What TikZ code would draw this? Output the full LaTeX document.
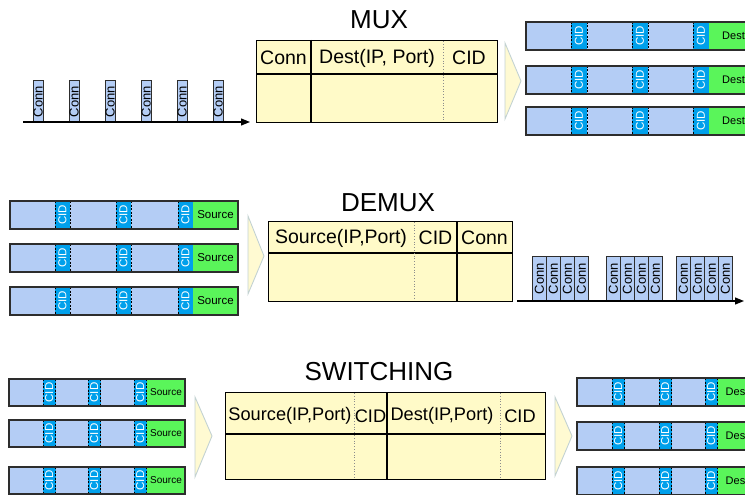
\documentclass[tikz,border=0pt]{standalone}
\usepackage{fontspec}
\setmainfont{Liberation Sans}
\usetikzlibrary{arrows.meta}

\definecolor{pktblue}{RGB}{180,205,245}
\definecolor{cidblue}{RGB}{0,160,235}
\definecolor{srcgreen}{RGB}{90,245,90}
\definecolor{tabyellow}{RGB}{255,250,200}
\definecolor{chevfill}{RGB}{255,250,210}
\definecolor{chevline}{RGB}{195,210,210}
\definecolor{pktline}{RGB}{45,45,45}

\tikzset{
  pktedge/.style={draw=pktline, line width=1.2pt},
  ciddash/.style={draw=black, line width=0.9pt, dash pattern=on 2pt off 1.5pt},
  cidtext/.style={text=white, font=\fontsize{11.5}{11.5}\selectfont, rotate=90, inner sep=0pt},
  conntext/.style={font=\fontsize{13}{13}\selectfont, rotate=90, inner sep=0pt},
  connbox/.style={draw=pktline, fill=pktblue, line width=1pt, anchor=north west, inner sep=0pt},
  tabframe/.style={draw=black, fill=tabyellow, line width=1.2pt, anchor=north west, inner sep=0pt},
  tabrule/.style={draw=black, line width=1.2pt},
  tabdots/.style={draw=black!45, line width=0.8pt, dotted},
  chev/.style={fill=chevfill, draw=chevline, line width=0.9pt, line join=miter},
  timeaxis/.style={draw=black, line width=1.2pt, -{Triangle[length=9pt,width=7pt]}},
  titletext/.style={font=\fontsize{26}{26}\selectfont},
  headtext/.style={font=\fontsize{19.5}{19.5}\selectfont},
  swhead/.style={font=\fontsize{18.2}{18.2}\selectfont},
  lbl/.style={font=\fontsize{#1}{#1}\selectfont, inner sep=0pt},
}

% one packet: blue payload with three CID fields and a green address field
% #1 name, #2 top, #3 bottom, #4 left, #5-#7 CID left edges, #8 green left, #9 green right
\newcommand\pktrow[9]{%
  \fill[pktblue] (#4,#2) rectangle (#8,#3);
  \foreach \c [count=\k] in {#5,#6,#7}{%
    \fill[cidblue] (\c,#2) rectangle ({\c+\cidw},#3);
    \draw[ciddash] (\c,#2) -- (\c,#3) ({\c+\cidw},#2) -- ({\c+\cidw},#3);
    \node[cidtext] (#1-cid\k) at ({\c+\cidw/2},{(#2+#3)/2}) {CID};
  }
  \fill[srcgreen] (#8,#2) rectangle (#9,#3);
  \draw[pktedge] (#4,#2) rectangle (#9,#3);
  \coordinate (#1-gw) at (#8,{(#2+#3)/2});
  \coordinate (#1-gc) at ({(#8+#9)/2},{(#2+#3)/2});
}

\begin{document}
\begin{tikzpicture}[x=1pt,y=-1pt]
\useasboundingbox (0,0) rectangle (745,495);
\clip (0,0) rectangle (745,495);

%% ---------------- MUX ----------------
\node[titletext] (muxtitle) at (379,20) {MUX};

% incoming connection stream
\foreach \x [count=\i] in {32.5,68.5,104.5,140.5,176.5,212.5}{
  \node[connbox, minimum width=10.5pt, minimum height=42pt] (min\i) at (\x,80) {};
  \node[conntext] (minl\i) at (min\i.center) {Conn};
}
\coordinate (muxax0) at (23,122);
\coordinate (muxax1) at (250,122);
\draw[timeaxis] (muxax0) -- (muxax1);

% table
\node[tabframe, minimum width=241pt, minimum height=82pt] (muxtab) at (256,40) {};
\draw[tabrule] (256,74) -- (497,74);
\draw[tabrule] (311,40) -- (311,122);
\draw[tabdots] (443,41) -- (443,121);
\node[headtext] (muxh1) at (283.5,58) {Conn};
\node[headtext] (muxh2) at (377,58) {Dest(IP, Port)};
\node[headtext] (muxh3) at (469,58) {CID};

\filldraw[chev] (505,43) -- (521,81) -- (505,119) -- cycle;

% outgoing packets
\def\cidw{16}
\foreach \t [count=\i] in {22,66,107}{
  \pktrow{mout\i}{\t}{\t+28}{526}{571}{632}{693}{709}{770}
  \node[lbl=11, anchor=west] (moutl\i) at ([xshift=13pt]mout\i-gw) {Dest};
}

%% ---------------- DEMUX ----------------
\node[titletext] (dmxtitle) at (388,203) {DEMUX};

\def\cidw{15}
\foreach \t [count=\i] in {201,244,287}{
  \pktrow{din\i}{\t}{\t+28}{10}{55}{116}{178}{193}{238}
  \node[lbl=11.5] (dinl\i) at (din\i-gc) {Source};
}

\filldraw[chev] (248,216) -- (264,256) -- (248,294) -- cycle;

\node[tabframe, minimum width=244pt, minimum height=80pt] (dmxtab) at (268,221) {};
\draw[tabrule] (268,253) -- (512,253);
\draw[tabrule] (457,221) -- (457,301);
\draw[tabdots] (414,222) -- (414,300);
\node[headtext] (dmxh1) at (341,238) {Source(IP,Port)};
\node[headtext] (dmxh2) at (435.5,238) {CID};
\node[headtext] (dmxh3) at (484.5,238) {Conn};

% outgoing connection stream, grouped
\foreach \g in {532,606,676}{
  \foreach \k in {0,...,3}{
    \node[connbox, minimum width=14pt, minimum height=44pt] (dout\g-\k) at ({\g+14*\k},256) {};
    \node[conntext] (doutl\g-\k) at (dout\g-\k.center) {Conn};
  }
}
\coordinate (dmxax0) at (517,301);
\coordinate (dmxax1) at (744,301);
\draw[timeaxis] (dmxax0) -- (dmxax1);

%% ---------------- SWITCHING ----------------
\node[titletext] (swtitle) at (379,372) {SWITCHING};

\def\cidw{12.5}
\foreach \t [count=\i] in {379,420,467}{
  \pktrow{sin\i}{\t}{\t+27}{9}{43}{88}{134}{147}{185}
  \node[lbl=10] (sinl\i) at (sin\i-gc) {Source};
}

\filldraw[chev] (195,397) -- (212,436) -- (195,477) -- cycle;

\node[tabframe, minimum width=320pt, minimum height=87pt] (swtab) at (225,392) {};
\draw[tabrule] (225,434) -- (545,434);
\draw[tabrule] (387,392) -- (387,479);
\draw[tabdots] (354,393) -- (354,478);
\draw[tabdots] (500,393) -- (500,478);
\node[swhead] (swh1) at (290,416) {Source(IP,Port)};
\node[swhead] (swh2) at (370.5,416) {CID};
\node[swhead] (swh3) at (442,416) {Dest(IP,Port)};
\node[swhead] (swh4) at (520,416) {CID};

\filldraw[chev] (555,397) -- (572,436) -- (555,476) -- cycle;

\foreach \t [count=\i] in {378,422,467}{
  \pktrow{sout\i}{\t}{\t+28}{577}{612}{659}{705}{717.5}{770}
  \node[lbl=11, anchor=west] (soutl\i) at ([xshift=8pt]sout\i-gw) {Dest};
}
\end{tikzpicture}
\end{document}
